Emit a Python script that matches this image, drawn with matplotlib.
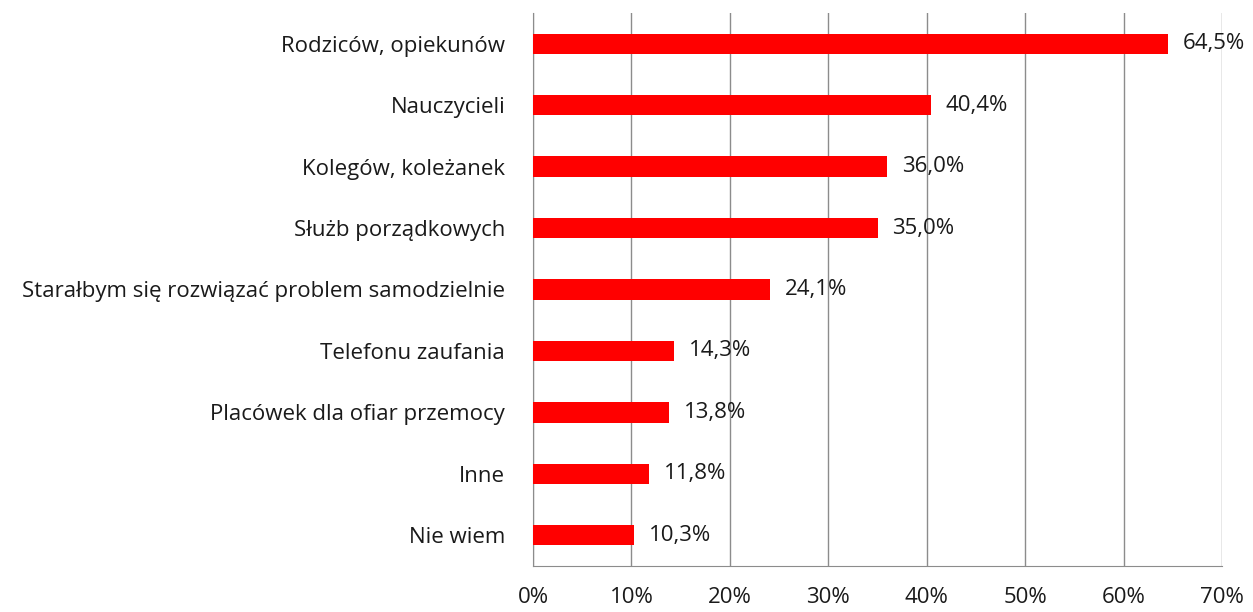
import matplotlib.pyplot as plt
from matplotlib.ticker import FuncFormatter

categories = ['Rodziców, opiekunów', 'Nauczycieli', 'Kolegów, koleżanek',
              'Służb porządkowych', 'Starałbym się rozwiązać problem samodzielnie',
              'Telefonu zaufania', 'Placówek dla ofiar przemocy', 'Inne', 'Nie wiem']
values = [64.5, 40.4, 36.0, 35.0, 24.1, 14.3, 13.8, 11.8, 10.3]
value_labels = ['64,5%', '40,4%', '36,0%', '35,0%', '24,1%', '14,3%', '13,8%', '11,8%', '10,3%']
xticks = [0, 10, 20, 30, 40, 50, 60, 70]

plt.rcParams['font.family'] = ['Open Sans', 'DejaVu Sans']

fig = plt.figure(figsize=(12.53, 6.12), dpi=100)
ax = fig.add_axes([533 / 1253, 1 - 566 / 612, (1222 - 533) / 1253, (566 - 13) / 612])

y = list(range(len(categories)))[::-1]
ax.barh(y, values, height=0.33, color='#ff0000', zorder=3)
for yi, v, lab in zip(y, values, value_labels):
    ax.text(v + 1.5, yi, lab, va='center', ha='left', fontsize=16, color='#1a1a1a', zorder=4)

ax.set_xlim(0, 70)
ax.set_ylim(-0.5, 8.5)
ax.set_xticks(xticks)
ax.xaxis.set_major_formatter(FuncFormatter(lambda x, p: f'{int(x)}%'))
ax.set_yticks(y)
ax.set_yticklabels(categories)
ax.tick_params(axis='both', length=0, labelsize=16, colors='#1a1a1a')
ax.tick_params(axis='x', pad=15)
ax.tick_params(axis='y', pad=20)
ax.grid(axis='x', color='#8c8c8c', linewidth=1, zorder=0)
for s in ['top', 'right']:
    ax.spines[s].set_visible(False)
for s in ['left', 'bottom']:
    ax.spines[s].set_color('#8c8c8c')

fig.savefig('out.png', dpi=100)
